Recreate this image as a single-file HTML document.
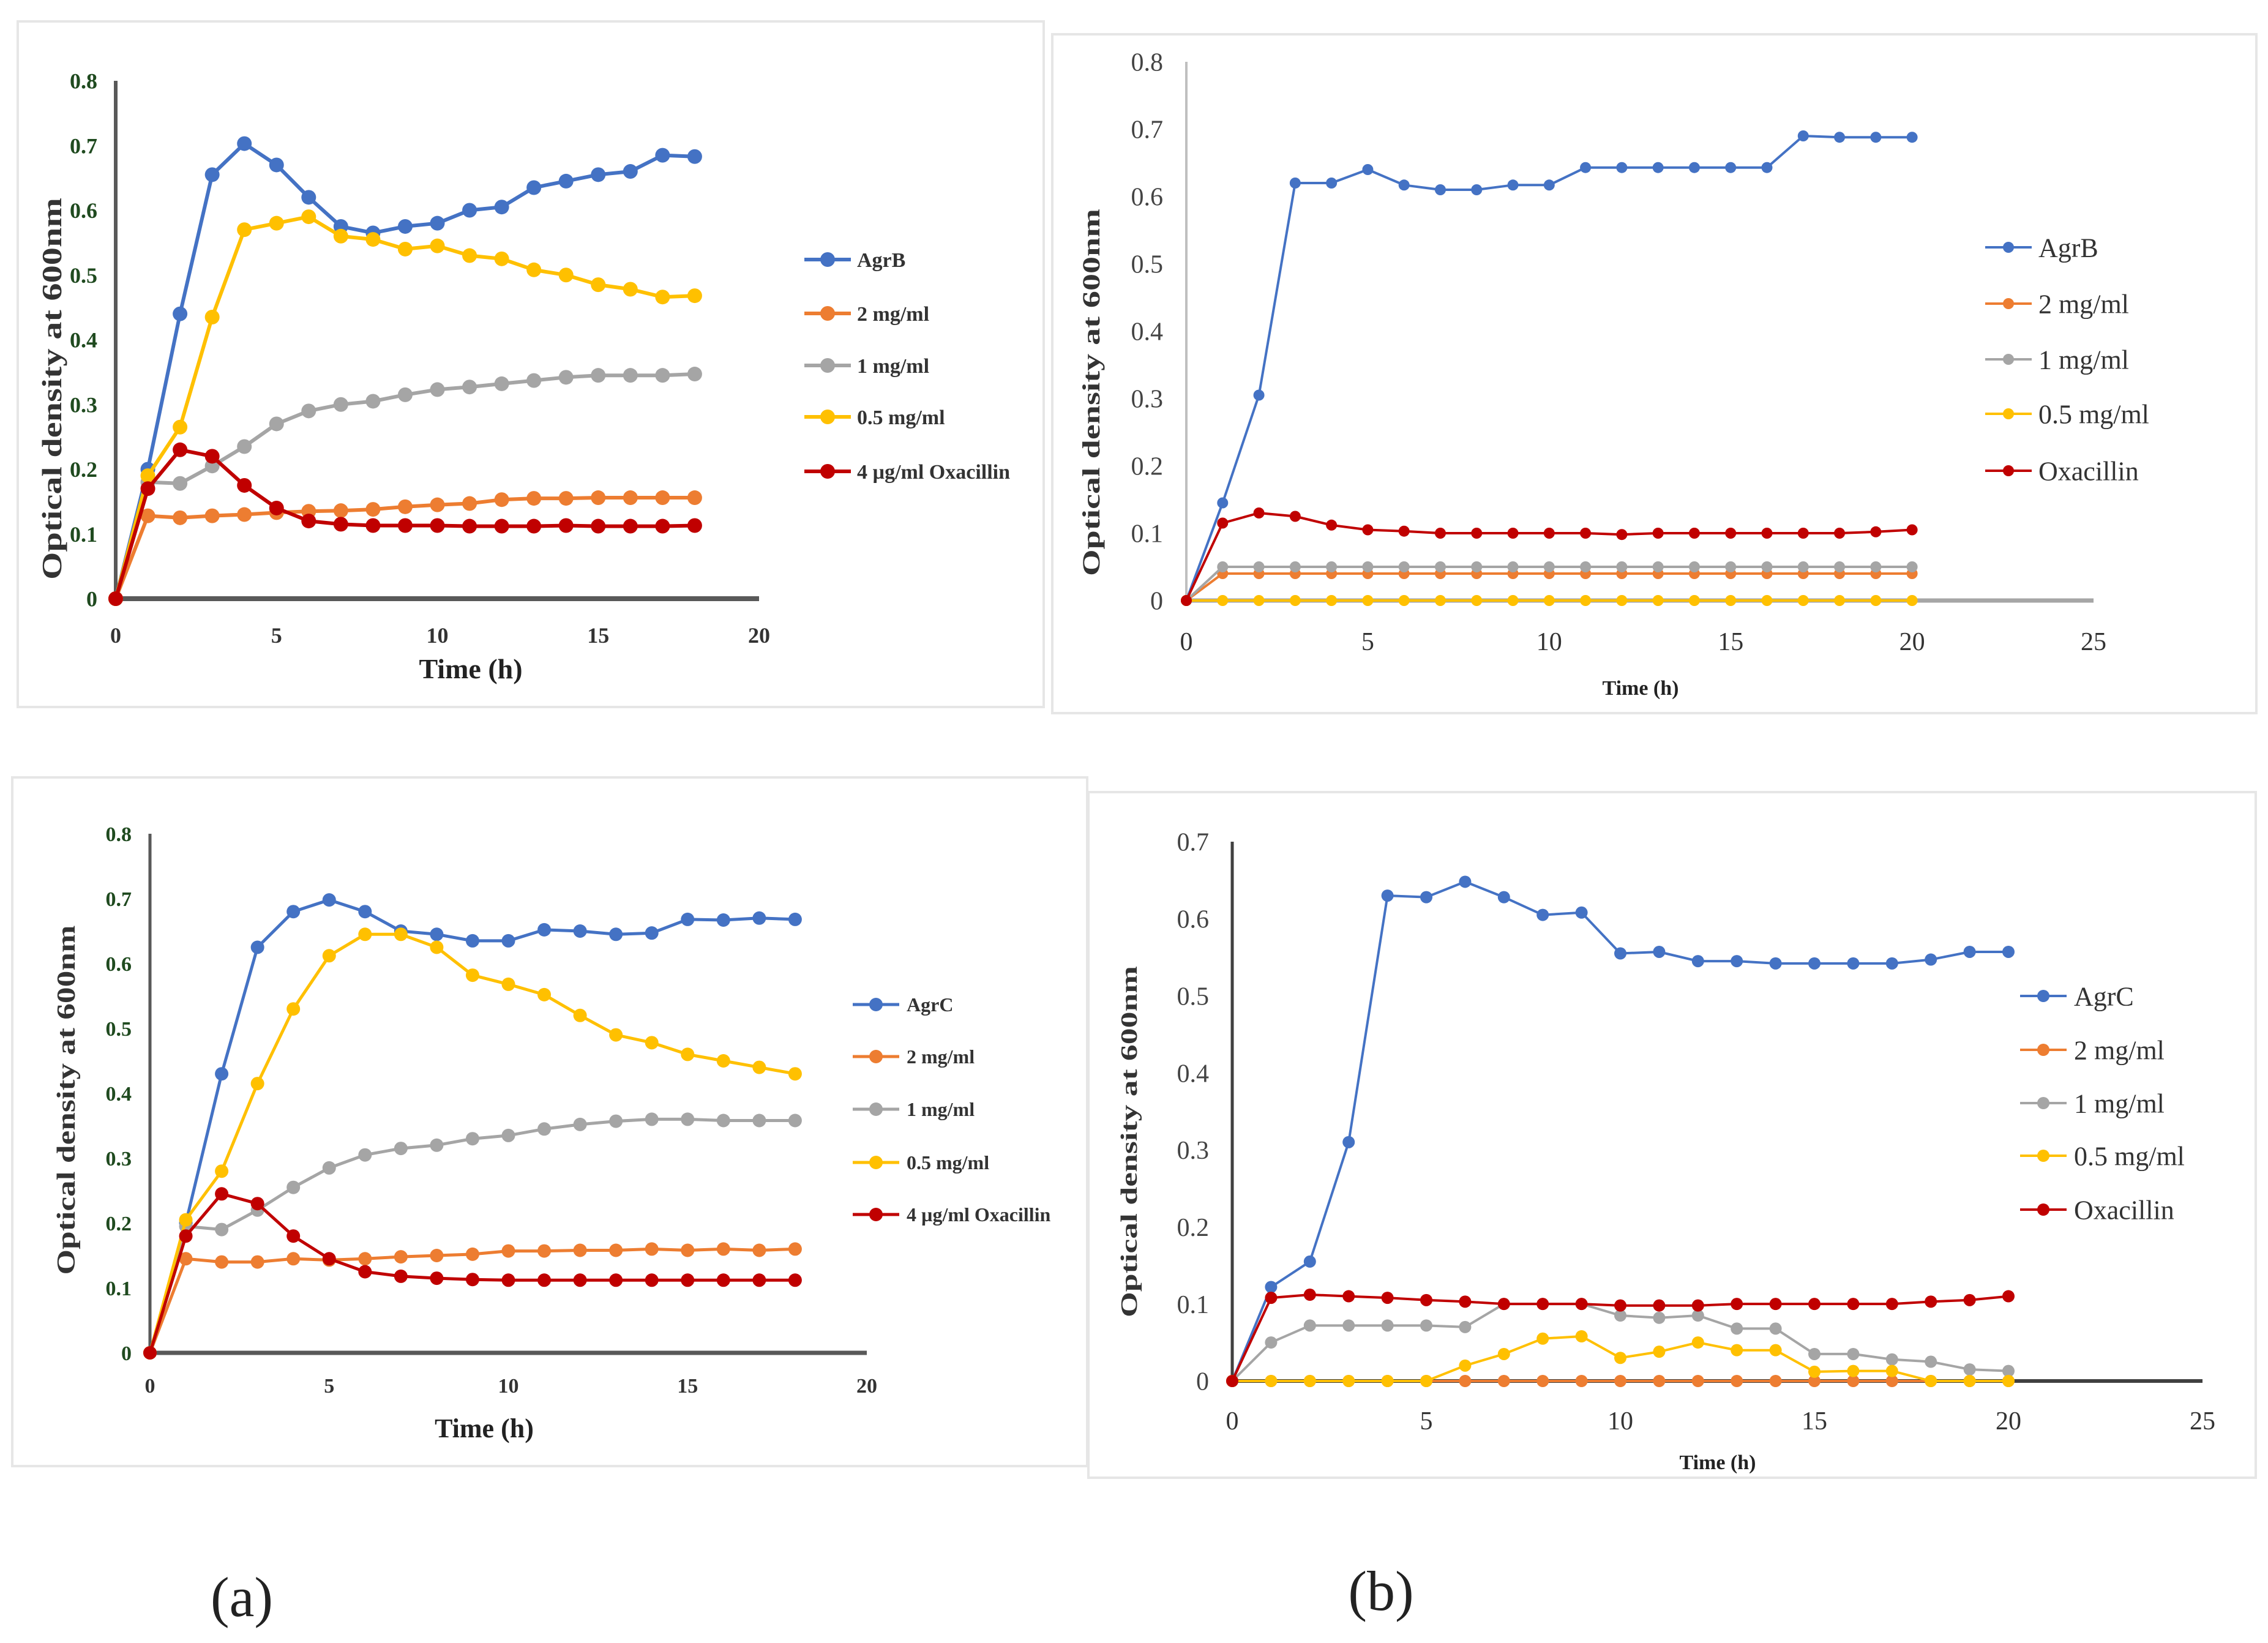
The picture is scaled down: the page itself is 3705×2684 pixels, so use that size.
<!DOCTYPE html>
<html><head><meta charset="utf-8"><style>
html,body{margin:0;padding:0;background:#fff}
svg{display:block}
text{font-family:"Liberation Serif",serif}
</style></head><body>
<svg id="fig" xmlns="http://www.w3.org/2000/svg" width="3705" height="2684" viewBox="0 0 3705 2684">
<rect x="29" y="35" width="1676" height="1120" fill="#fff" stroke="#e6e6e6" stroke-width="4"/>
<rect x="1719" y="56" width="1967" height="1109" fill="#fff" stroke="#e6e6e6" stroke-width="4"/>
<rect x="20" y="1270" width="1756" height="1125" fill="#fff" stroke="#e6e6e6" stroke-width="4"/>
<rect x="1778" y="1294" width="1907" height="1120" fill="#fff" stroke="#e6e6e6" stroke-width="4"/>
<text x="395" y="2640" font-size="92" text-anchor="middle" fill="#222">(a)</text>
<text x="2256" y="2630" font-size="92" text-anchor="middle" fill="#222">(b)</text>
</svg>
<script>
// ---- data ----
const hoursA = [0,1,2,3,4,5,6,7,8,9,10,11,12,13,14,15,16,17,18];
const hoursB = [0,1,2,3,4,5,6,7,8,9,10,11,12,13,14,15,16,17,18,19,20];
const seriesNamesAgrB = ["AgrB","2 mg/ml","1 mg/ml","0.5 mg/ml","4 µg/ml Oxacillin"];
const seriesNamesAgrBb = ["AgrB","2 mg/ml","1 mg/ml","0.5 mg/ml","Oxacillin"];
const seriesNamesAgrC = ["AgrC","2 mg/ml","1 mg/ml","0.5 mg/ml","4 µg/ml Oxacillin"];
const seriesNamesAgrCb = ["AgrC","2 mg/ml","1 mg/ml","0.5 mg/ml","Oxacillin"];
const seriesColors = ["#4472C4","#ED7D31","#A5A5A5","#FFC000","#C00000"];
const ticksY8 = ["0","0.1","0.2","0.3","0.4","0.5","0.6","0.7","0.8"];
const ticksY7 = ["0","0.1","0.2","0.3","0.4","0.5","0.6","0.7"];
const ticksX20 = ["0","5","10","15","20"];
const ticksX25 = ["0","5","10","15","20","25"];

const tA_agr = [0,0.2,0.44,0.655,0.703,0.67,0.62,0.575,0.565,0.575,0.58,0.6,0.605,0.635,0.645,0.655,0.66,0.685,0.683];
const tA_2 = [0,0.128,0.125,0.128,0.13,0.133,0.135,0.136,0.138,0.142,0.145,0.147,0.153,0.155,0.155,0.156,0.156,0.156,0.156];
const tA_1 = [0,0.18,0.178,0.205,0.235,0.27,0.29,0.3,0.305,0.315,0.323,0.327,0.332,0.337,0.342,0.345,0.345,0.345,0.347];
const tA_05 = [0,0.19,0.265,0.435,0.57,0.58,0.59,0.56,0.555,0.54,0.545,0.53,0.525,0.508,0.5,0.485,0.478,0.466,0.468];
const tA_ox = [0,0.17,0.23,0.22,0.175,0.14,0.12,0.115,0.113,0.113,0.113,0.112,0.112,0.112,0.113,0.112,0.112,0.112,0.113];

const tB_agr = [0,0.145,0.305,0.62,0.62,0.64,0.617,0.61,0.61,0.617,0.617,0.643,0.643,0.643,0.643,0.643,0.643,0.69,0.688,0.688,0.688];
const tB_2 = [0,0.04,0.04,0.04,0.04,0.04,0.04,0.04,0.04,0.04,0.04,0.04,0.04,0.04,0.04,0.04,0.04,0.04,0.04,0.04,0.04];
const tB_1 = [0,0.05,0.05,0.05,0.05,0.05,0.05,0.05,0.05,0.05,0.05,0.05,0.05,0.05,0.05,0.05,0.05,0.05,0.05,0.05,0.05];
const tB_05 = [0,0,0,0,0,0,0,0,0,0,0,0,0,0,0,0,0,0,0,0,0];
const tB_ox = [0,0.115,0.13,0.125,0.112,0.105,0.103,0.1,0.1,0.1,0.1,0.1,0.098,0.1,0.1,0.1,0.1,0.1,0.1,0.102,0.105];

const bA_agr = [0,0.2,0.43,0.625,0.68,0.698,0.68,0.65,0.645,0.635,0.635,0.652,0.65,0.645,0.647,0.668,0.667,0.67,0.668];
const bA_2 = [0,0.145,0.14,0.14,0.145,0.143,0.145,0.148,0.15,0.152,0.157,0.157,0.158,0.158,0.16,0.158,0.16,0.158,0.16];
const bA_1 = [0,0.195,0.19,0.22,0.255,0.285,0.305,0.315,0.32,0.33,0.335,0.345,0.352,0.357,0.36,0.36,0.358,0.358,0.358];
const bA_05 = [0,0.205,0.28,0.415,0.53,0.612,0.645,0.645,0.625,0.582,0.568,0.552,0.52,0.49,0.478,0.46,0.45,0.44,0.43];
const bA_ox = [0,0.18,0.245,0.23,0.18,0.145,0.125,0.118,0.115,0.113,0.112,0.112,0.112,0.112,0.112,0.112,0.112,0.112,0.112];

const bB_agr = [0,0.122,0.155,0.31,0.63,0.628,0.648,0.628,0.605,0.608,0.555,0.557,0.545,0.545,0.542,0.542,0.542,0.542,0.547,0.557,0.557];
const bB_2 = [0,0,0,0,0,0,0,0,0,0,0,0,0,0,0,0,0,0,0,0,0];
const bB_1 = [0,0.05,0.072,0.072,0.072,0.072,0.07,0.1,0.1,0.1,0.085,0.082,0.085,0.068,0.068,0.035,0.035,0.028,0.025,0.015,0.013];
const bB_05 = [0,0,0,0,0,0,0.02,0.035,0.055,0.058,0.03,0.038,0.05,0.04,0.04,0.012,0.013,0.013,0,0,0];
const bB_ox = [0,0.108,0.112,0.11,0.108,0.105,0.103,0.1,0.1,0.1,0.098,0.098,0.098,0.1,0.1,0.1,0.1,0.1,0.103,0.105,0.11];

const NS = "http://www.w3.org/2000/svg";
const svg = document.getElementById('fig');
function mk(tag, attrs, parent, txt){
  const e = document.createElementNS(NS, tag);
  for (const k in attrs) e.setAttribute(k, attrs[k]);
  if (txt !== undefined) e.textContent = txt;
  (parent||svg).appendChild(e);
  return e;
}

function drawChart(c){
  const g = mk('g', {});
  
  
  const xs = v => c.x0 + (v - 0) / c.xmax * (c.x1 - c.x0);
  const ys = v => c.y0 - v / c.ymax * (c.y0 - c.y1);
  // axes
  const ya = mk('line', {x1:c.x0, y1:c.y0, x2:c.x0, y2:c.y1, stroke:c.yAxisColor, 'stroke-width':c.yAxisW}, g);
  
  
  const xa = mk('line', {x1:c.x0, y1:c.y0, x2:c.x1, y2:c.y0, stroke:c.xAxisColor, 'stroke-width':c.xAxisW}, g);
  
  
  // y ticks
  c.yTicks.forEach(t => {
    const e = mk('text', {x:c.x0 - c.yTickGap, y:ys(parseFloat(t)) + c.tickFs*0.35, 'font-size':c.tickFs, 'text-anchor':'end', fill:c.tickColor, 'font-weight':c.bold?'bold':'normal'}, g, t);
    
    
  });
  c.xTicks.forEach(t => {
    const e = mk('text', {x:xs(parseFloat(t)), y:c.xTickY, 'font-size':c.tickFs, 'text-anchor':'middle', fill:'#333', 'font-weight':c.bold?'bold':'normal'}, g, t);
    
    
  });
  const xt = mk('text', {x:c.xTitleX, y:c.xTitleY, 'font-size':c.xTitleFs, 'text-anchor':'middle', fill:'#222', 'font-weight':'bold'}, g, 'Time (h)');
  
  
  const yt = mk('text', {x:0, y:0, 'font-size':c.yTitleFs, 'text-anchor':'middle', fill:'#333', 'font-weight':'bold', textLength:c.yTitleLen, lengthAdjust:'spacingAndGlyphs', transform:`translate(${c.yTitleX},${c.yTitleCY}) rotate(-90)`}, g, 'Optical density at 600nm');
  
  
  // series
  c.series.forEach((vals, si) => {
    const col = seriesColors[si];
    const sg = mk('g', {}, g);
    
    
    const pts = vals.map((v, i) => xs(c.xs[i]).toFixed(1) + ',' + ys(v).toFixed(1)).join(' ');
    const pl = mk('polyline', {points:pts, fill:'none', stroke:col, 'stroke-width':c.lineW, 'stroke-linejoin':'round'}, sg);
    
    
    vals.forEach((v, i) => {
      const m = mk('circle', {cx:xs(c.xs[i]), cy:ys(v), r:c.markR, fill:col}, sg);
      
      
    });
  });
  // legend
  c.names.forEach((n, i) => {
    const lg = mk('g', {}, g);
    
    
    const y = c.legY[i];
    mk('line', {x1:c.legX - 38, y1:y, x2:c.legX + 38, y2:y, stroke:seriesColors[i], 'stroke-width':c.lineW}, lg);
    mk('circle', {cx:c.legX, cy:y, r:c.markR, fill:seriesColors[i]}, lg);
    mk('text', {x:c.legTX, y:y + c.legFs*0.35, 'font-size':c.legFs, fill:'#333', 'font-weight':c.bold?'bold':'normal'}, lg, n);
  });
}

drawChart({id:'chart-agrb-a', x0:189, x1:1240, y0:978, y1:132, xmax:20, ymax:0.8,
  yAxisColor:'#595959', yAxisW:6, xAxisColor:'#595959', xAxisW:8, yTicks:ticksY8, xTicks:ticksX20,
  yTickGap:30, tickFs:36, tickColor:'#1f4a1f', bold:true, xTickY:1050,
  xTitleX:769, xTitleY:1108, xTitleFs:46, yTitleX:100, yTitleCY:635, yTitleFs:46, yTitleLen:624,
  xs:hoursA, series:[tA_agr,tA_2,tA_1,tA_05,tA_ox], lineW:6, markR:12,
  names:seriesNamesAgrB, legX:1352, legTX:1400, legFs:34, legY:[424,512,597,681,770]});

drawChart({id:'chart-agrb-b', x0:1938, x1:3420, y0:981, y1:101, xmax:25, ymax:0.8,
  yAxisColor:'#bfbfbf', yAxisW:4, xAxisColor:'#a6a6a6', xAxisW:7, yTicks:ticksY8, xTicks:ticksX25,
  yTickGap:38, tickFs:42, tickColor:'#444', bold:false, xTickY:1062,
  xTitleX:2680, xTitleY:1135, xTitleFs:34, yTitleX:1796, yTitleCY:641, yTitleFs:40, yTitleLen:600,
  xs:hoursB, series:[tB_agr,tB_2,tB_1,tB_05,tB_ox], lineW:4, markR:9,
  names:seriesNamesAgrBb, legX:3281, legTX:3330, legFs:44, legY:[404,496,587,676,769]});

drawChart({id:'chart-agrc-a', x0:245, x1:1416, y0:2210, y1:1362, xmax:20, ymax:0.8,
  yAxisColor:'#595959', yAxisW:5, xAxisColor:'#595959', xAxisW:7, yTicks:ticksY8, xTicks:ticksX20,
  yTickGap:30, tickFs:34, tickColor:'#1f4a1f', bold:true, xTickY:2275,
  xTitleX:791, xTitleY:2348, xTitleFs:44, yTitleX:122, yTitleCY:1797, yTitleFs:42, yTitleLen:571,
  xs:hoursA, series:[bA_agr,bA_2,bA_1,bA_05,bA_ox], lineW:5, markR:11,
  names:seriesNamesAgrC, legX:1431, legTX:1481, legFs:32, legY:[1641,1726,1812,1899,1984]});

drawChart({id:'chart-agrc-b', x0:2013, x1:3598, y0:2256, y1:1375, xmax:25, ymax:0.7,
  yAxisColor:'#404040', yAxisW:5, xAxisColor:'#404040', xAxisW:6, yTicks:ticksY7, xTicks:ticksX25,
  yTickGap:38, tickFs:42, tickColor:'#444', bold:false, xTickY:2335,
  xTitleX:2806, xTitleY:2400, xTitleFs:34, yTitleX:1857, yTitleCY:1865, yTitleFs:38, yTitleLen:574,
  xs:hoursB, series:[bB_agr,bB_2,bB_1,bB_05,bB_ox], lineW:4, markR:10,
  names:seriesNamesAgrCb, legX:3338, legTX:3388, legFs:44, legY:[1627,1715,1802,1888,1976]});
</script>
</body></html>
